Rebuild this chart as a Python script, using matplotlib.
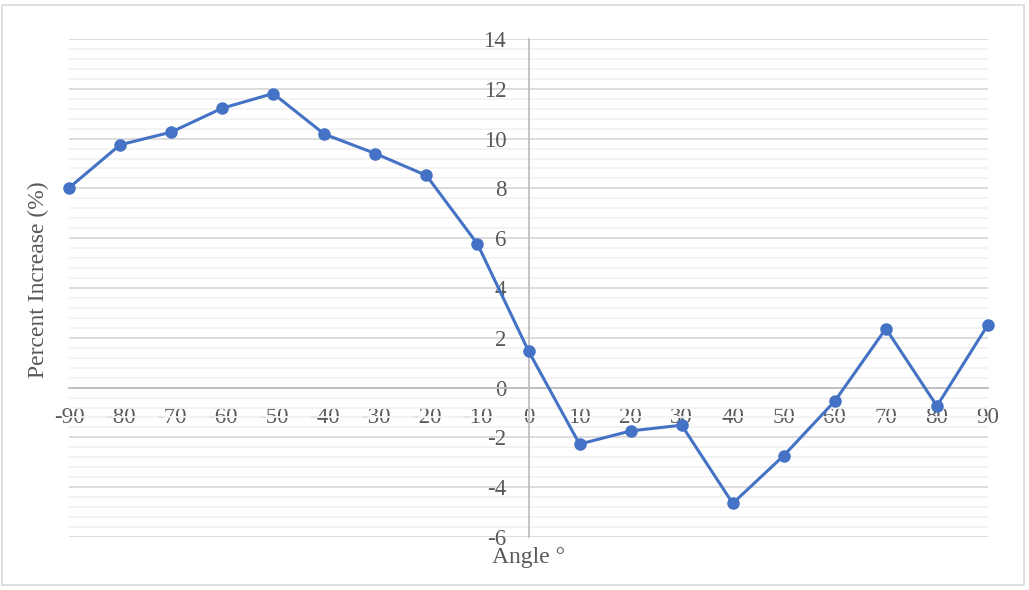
import matplotlib
matplotlib.use("Agg")
import matplotlib.pyplot as plt
from matplotlib.patches import Rectangle
from matplotlib.ticker import MultipleLocator

angles = [-90, -80, -70, -60, -50, -40, -30, -20, -10, 0,
          10, 20, 30, 40, 50, 60, 70, 80, 90]
percent_increase = [8.02, 9.75, 10.26, 11.22, 11.81, 10.18, 9.40, 8.52, 5.77, 1.47,
                    -2.27, -1.74, -1.51, -4.65, -2.73, -0.54, 2.37, -0.74, 2.53]
x_ticks = list(range(-90, 91, 10))
y_ticks = list(range(-6, 15, 2))

plt.rcParams['font.family'] = ['Liberation Serif', 'DejaVu Serif']
text_color = '#595959'

fig = plt.figure(figsize=(10.29, 5.90), dpi=100)
ax = fig.add_axes([69 / 1029, 1 - 537 / 590, (988 - 69) / 1029, (537 - 39) / 590])

# outer chart border
fig.patches.append(Rectangle((2 / 1029, 5 / 590), 1022 / 1029, 580 / 590,
                             transform=fig.transFigure, fill=False,
                             edgecolor='#d9d9d9', linewidth=1.2))

ax.set_xlim(-90, 90)
ax.set_ylim(-6, 14)

# horizontal gridlines: major every 2, minor every 0.4
ax.yaxis.set_major_locator(MultipleLocator(2))
ax.yaxis.set_minor_locator(MultipleLocator(0.4))
ax.grid(axis='y', which='major', color='#d9d9d9', linewidth=1.3, zorder=0)
ax.grid(axis='y', which='minor', color='#f2f2f2', linewidth=1.3, zorder=0)
ax.tick_params(axis='y', which='minor', length=0)

for side in ['top', 'right']:
    ax.spines[side].set_visible(False)
ax.spines['left'].set_position(('data', 0))
ax.spines['bottom'].set_position(('data', 0))
ax.spines['left'].set_color('#bfbfbf')
ax.spines['left'].set_linewidth(1.3)
ax.spines['bottom'].set_color('#bfbfbf')
ax.spines['bottom'].set_linewidth(1.3)

ax.set_xticks(x_ticks)
ax.set_xticklabels([str(v) for v in x_ticks])
ax.set_yticks(y_ticks)
ax.set_yticklabels([str(v) for v in y_ticks])
ax.tick_params(axis='x', which='major', length=0, pad=14, labelsize=16.5, labelcolor=text_color)
ax.tick_params(axis='y', which='major', length=0, pad=16, labelsize=16.5, labelcolor=text_color)

ax.plot(angles, percent_increase, color='#4472C4', linewidth=2.2,
        marker='o', markersize=8, zorder=3, clip_on=False)

fig.text(38 / 1029, 1 - 280 / 590, 'Percent Increase (%)', rotation=90,
         ha='center', va='center', fontsize=17, color=text_color)
fig.text(528 / 1029, 1 - 558 / 590, 'Angle °', ha='center', va='center',
         fontsize=17, color=text_color)

fig.savefig('out.png', dpi=100)
